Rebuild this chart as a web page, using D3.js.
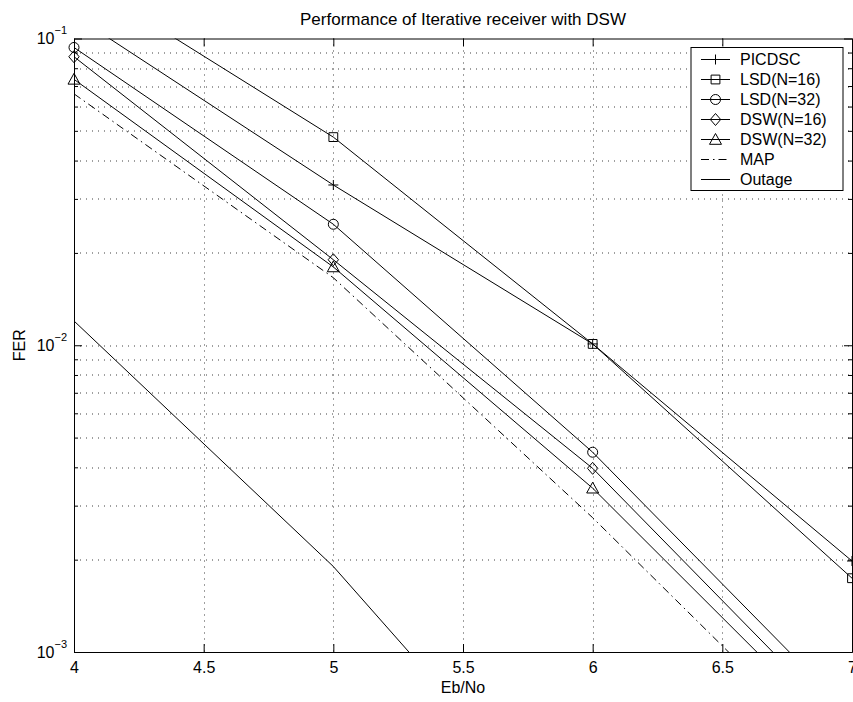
<!DOCTYPE html>
<html>
<head>
<meta charset="utf-8">
<script src="https://cdn.jsdelivr.net/npm/d3@7"></script>
<style>
body { margin: 0; background: #fff; }
svg { display: block; font-family: "Liberation Sans", Arial, Helvetica, sans-serif; }
</style>
</head>
<body>
<svg id="graph" width="853" height="702"></svg>
<script>
// data
var ebno = [4, 5, 6, 7];
var picdsc = [0.119, 0.0333, 0.0101, 0.00198];
var lsd16 = [0.161, 0.0477, 0.0101, 0.00174];
var lsd32 = [0.0935, 0.0248, 0.00448, 0.00062];
var dsw16 = [0.0872, 0.0190, 0.00397, 0.000545];
var dsw32 = [0.0736, 0.0180, 0.00342, 0.00049];
var mapFer = [0.066, 0.0166, 0.00274, 0.0004];
var outage = [0.012, 0.0019, 0.00021, null];

var xTicks = [4, 4.5, 5, 5.5, 6, 6.5, 7];
var yDecades = [1e-3, 1e-2, 1e-1];
var yExponents = ["−3", "−2", "−1"];
var legendNames = ["PICDSC", "LSD(N=16)", "LSD(N=32)", "DSW(N=16)", "DSW(N=32)", "MAP", "Outage"];

var series = [
    {name: legendNames[0], values: picdsc, marker: "plus"},
    {name: legendNames[1], values: lsd16, marker: "square"},
    {name: legendNames[2], values: lsd32, marker: "circle"},
    {name: legendNames[3], values: dsw16, marker: "diamond"},
    {name: legendNames[4], values: dsw32, marker: "triangle"},
    {name: legendNames[5], values: mapFer, marker: null, dash: "8,4,1.5,4"},
    {name: legendNames[6], values: outage, marker: null}
];

// plot box
var m = [38.5, 1, 50, 74]; // top right bottom left
var W = 853, H = 702;
var w = W - m[1] - m[3];
var h = H - m[0] - m[2];

var x = d3.scaleLinear().domain([4, 7]).range([0, w]);
var y = d3.scaleLog().domain([1e-3, 1e-1]).range([h, 0]);

var minorVals = [];
yDecades.slice(0, 2).forEach(function(d) {
    for (let k = 2; k <= 9; k++) minorVals.push(d * k);
});

var svg = d3.select("#graph");

svg.append("text")
    .attr("x", m[3] + w / 2)
    .attr("y", 25)
    .attr("text-anchor", "middle")
    .attr("font-size", 17)
    .text("Performance of Iterative receiver with DSW");

var graph = svg.append("g")
    .attr("transform", "translate(" + m[3] + "," + m[0] + ")");

graph.append("defs").append("clipPath").attr("id", "clip")
    .append("rect").attr("width", w).attr("height", h);

// grid
var grid = graph.append("g").attr("stroke", "#000").attr("stroke-width", 1)
    .attr("stroke-dasharray", "1,5").attr("opacity", 0.75);
grid.selectAll(".gx").data(xTicks.slice(1, -1)).enter().append("line")
    .attr("x1", function(d) { return Math.round(x(d)) + 0.5; })
    .attr("x2", function(d) { return Math.round(x(d)) + 0.5; })
    .attr("y1", 0).attr("y2", h);
grid.selectAll(".gy").data(minorVals.concat([1e-2])).enter().append("line")
    .attr("y1", function(d) { return Math.round(y(d)) + 0.5; })
    .attr("y2", function(d) { return Math.round(y(d)) + 0.5; })
    .attr("x1", 0).attr("x2", w);

// curves
var line = d3.line()
    .defined(function(d) { return d[1] != null; })
    .x(function(d) { return x(d[0]); })
    .y(function(d) { return y(d[1]); });

var plot = graph.append("g").attr("clip-path", "url(#clip)");
series.forEach(function(s) {
    var pts = ebno.map(function(e, i) { return [e, s.values[i]]; });
    plot.append("path")
        .attr("d", line(pts))
        .attr("fill", "none")
        .attr("stroke", "#000")
        .attr("stroke-width", 1)
        .attr("stroke-dasharray", s.dash || null);
});

var markerPath = {
    plus: "M-5,0H5M0,-5V5",
    square: "M-4.4,-4.4H4.4V4.4H-4.4Z",
    circle: "M5,0A5,5 0 1,1 -5,0A5,5 0 1,1 5,0Z",
    diamond: "M0,-6L5.2,0L0,6L-5.2,0Z",
    triangle: "M0,-6L6,4.8H-6Z"
};

series.forEach(function(s) {
    if (!s.marker) return;
    ebno.forEach(function(e, i) {
        var v = s.values[i];
        if (v == null || v < 1e-3 || v > 1e-1) return;
        graph.append("path")
            .attr("transform", "translate(" + x(e) + "," + y(v) + ")")
            .attr("d", markerPath[s.marker])
            .attr("fill", "none")
            .attr("stroke", "#000")
            .attr("stroke-width", 1);
    });
});

// axes
var xAxis = d3.axisBottom(x).tickValues(xTicks).tickFormat(d3.format("~g"))
    .tickSizeInner(-8).tickSizeOuter(0).tickPadding(9.5);
var gx = graph.append("g")
    .attr("transform", "translate(0," + h + ")")
    .call(xAxis);
gx.selectAll("text").attr("font-size", 16).attr("fill", "#000");

graph.append("g")
    .call(d3.axisTop(x).tickValues(xTicks).tickFormat("").tickSizeInner(-8).tickSizeOuter(0));

var yAxis = d3.axisLeft(y).tickValues(yDecades).tickFormat("")
    .tickSizeInner(-8).tickSizeOuter(0);
var gy = graph.append("g").call(yAxis);
graph.append("g").call(d3.axisLeft(y).tickValues(minorVals).tickFormat("").tickSizeInner(-4).tickSizeOuter(0));

graph.append("g").attr("transform", "translate(" + w + ",0)")
    .call(d3.axisRight(y).tickValues(yDecades).tickFormat("").tickSizeInner(-8).tickSizeOuter(0));
graph.append("g").attr("transform", "translate(" + w + ",0)")
    .call(d3.axisRight(y).tickValues(minorVals).tickFormat("").tickSizeInner(-4).tickSizeOuter(0));

graph.selectAll(".domain, .tick line").attr("stroke", "#000");

// y labels as 10^n
yDecades.forEach(function(d, i) {
    var t = graph.append("text")
        .attr("x", -7)
        .attr("y", y(d) + 5.5)
        .attr("text-anchor", "end")
        .attr("font-size", 16);
    t.append("tspan").text("10");
    t.append("tspan").attr("dy", -10).attr("font-size", 11).text(yExponents[i]);
});

svg.append("text")
    .attr("x", m[3] + w / 2)
    .attr("y", 693)
    .attr("text-anchor", "middle")
    .attr("font-size", 16)
    .text("Eb/No");

svg.append("text")
    .attr("transform", "translate(25," + (m[0] + h / 2) + ") rotate(-90)")
    .attr("text-anchor", "middle")
    .attr("font-size", 16)
    .text("FER");

// legend
var lg = svg.append("g").attr("transform", "translate(691,47.5)");
lg.append("rect")
    .attr("width", 152).attr("height", 143)
    .attr("fill", "#fff").attr("stroke", "#000").attr("stroke-width", 1);
series.forEach(function(s, i) {
    var cy = 12 + i * 20;
    var row = lg.append("g").attr("transform", "translate(0," + cy + ")");
    row.append("line")
        .attr("x1", 10).attr("x2", 39).attr("y1", 0).attr("y2", 0)
        .attr("stroke", "#000").attr("stroke-dasharray", s.dash || null);
    if (s.marker) {
        row.append("path")
            .attr("transform", "translate(24.5,0)")
            .attr("d", markerPath[s.marker])
            .attr("fill", "none").attr("stroke", "#000");
    }
    row.append("text")
        .attr("x", 49).attr("y", 5.8)
        .attr("font-size", 16)
        .text(s.name);
});
</script>
</body>
</html>
